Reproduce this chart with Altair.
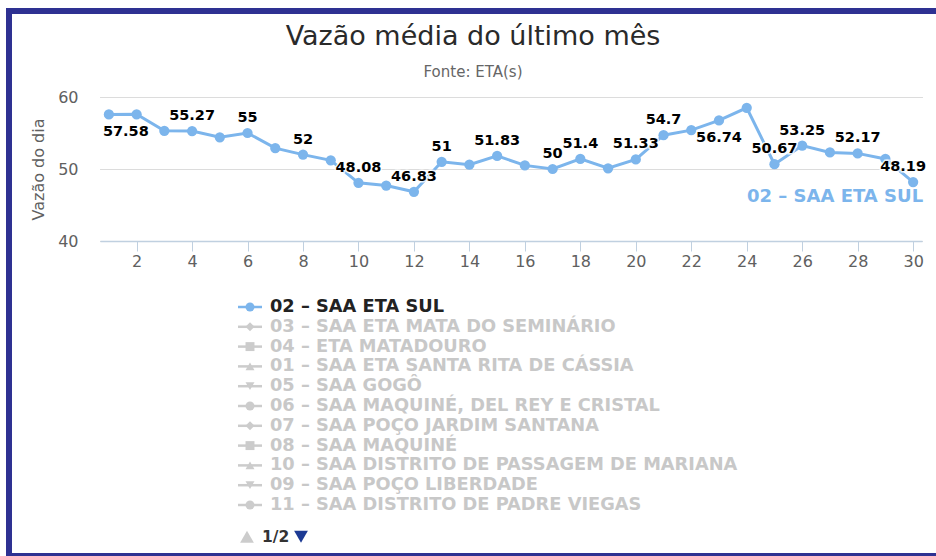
import altair as alt
import pandas as pd

# ---------------- data ----------------
days = list(range(1, 31))
vazao = [57.58, 57.6, 55.3, 55.27, 54.4, 55.0, 52.9, 52.0, 51.2, 48.08,
         47.7, 46.83, 51.0, 50.6, 51.83, 50.5, 50.0, 51.4, 50.1, 51.33,
         54.7, 55.4, 56.74, 58.5, 50.67, 53.25, 52.3, 52.17, 51.4, 48.19]
label_days = [1, 4, 6, 8, 10, 12, 13, 15, 17, 18, 20, 21, 23, 25, 26, 28, 30]
label_below_days = [1, 23]
series_name = "02 – SAA ETA SUL"
title_text = "Vazão média do último mês"
subtitle_text = "Fonte: ETA(s)"

legend_names = [
    "02 – SAA ETA SUL",
    "03 – SAA ETA MATA DO SEMINÁRIO",
    "04 – ETA MATADOURO",
    "01 – SAA ETA SANTA RITA DE CÁSSIA",
    "05 – SAA GOGÔ",
    "06 – SAA MAQUINÉ, DEL REY E CRISTAL",
    "07 – SAA POÇO JARDIM SANTANA",
    "08 – SAA MAQUINÉ",
    "10 – SAA DISTRITO DE PASSAGEM DE MARIANA",
    "09 – SAA POÇO LIBERDADE",
    "11 – SAA DISTRITO DE PADRE VIEGAS",
]
legend_shapes = ["circle", "diamond", "square", "triangle-up", "triangle-down",
                 "circle", "diamond", "square", "triangle-up", "triangle-down", "circle"]
legend_visible = [True] + [False] * 10
page_text = "1/2"

x_ticks = list(range(2, 31, 2))
y_ticks = [40, 50, 60]

BLUE = "#7cb5ec"
HIDDEN = "#cccccc"
FRAME = "#2e3192"
FONT = "DejaVu Sans"

# ---------------- tables ----------------
df = pd.DataFrame({"day": days, "value": vazao})
df["label"] = [f"{v:g}" if d in label_days else "" for d, v in zip(days, vazao)]
df["pos"] = ["below" if d in label_below_days else ("above" if d in label_days else "none")
             for d in days]

leg = pd.DataFrame({
    "idx": list(range(len(legend_names))),
    "name": legend_names,
    "shape": legend_shapes,
    "visible": legend_visible,
})
leg["color"] = [BLUE if v else HIDDEN for v in legend_visible]
leg["tcolor"] = ["#222222" if v else "#c8c8c8" for v in legend_visible]

page = pd.DataFrame({"idx": [11.6], "text": [page_text]})
titles = pd.DataFrame({"text": [title_text, subtitle_text]})

# ---------------- main chart ----------------
xenc = alt.X("day:Q",
             scale=alt.Scale(domain=[0.68, 30.32], nice=False, zero=False),
             axis=alt.Axis(values=x_ticks, title=None, grid=False, format="d",
                           ticks=True, tickSize=10, tickColor="#c0d0e0",
                           domainColor="#c0d0e0", domainWidth=1.5,
                           labelFontSize=16, labelColor="#606060", labelFont=FONT,
                           labelPadding=2))
yenc = alt.Y("value:Q",
             scale=alt.Scale(domain=[40, 60], nice=False, zero=False),
             axis=alt.Axis(values=y_ticks, title="Vazão do dia", grid=True,
                           gridColor="#dcdcdc", domain=False, ticks=False,
                           labelFontSize=16, labelColor="#606060", labelFont=FONT,
                           labelPadding=22, titleFont=FONT, titleFontSize=16,
                           titleFontWeight="normal", titleColor="#606060",
                           titlePadding=11))

base = alt.Chart(df).encode(x=xenc, y=yenc)

line = base.mark_line(color=BLUE, strokeWidth=3)
pts = base.mark_circle(color=BLUE, size=105, opacity=1)

dx_expr = alt.ExprRef("datum.day == 1 ? 17 : (datum.day == 30 ? -10 : 0)")
lab_style = dict(font=FONT, fontSize=14.5, fontWeight="bold", dx=dx_expr)

above = base.transform_filter("datum.pos == 'above'")
below = base.transform_filter("datum.pos == 'below'")

lab_above_halo = above.mark_text(dy=-15, color="white", stroke="white",
                                 strokeWidth=3, strokeOpacity=0.8, **lab_style).encode(text="label:N")
lab_above = above.mark_text(dy=-15, color="#000000", **lab_style).encode(text="label:N")
lab_below_halo = below.mark_text(dy=18, color="white", stroke="white",
                                 strokeWidth=3, strokeOpacity=0.8, **lab_style).encode(text="label:N")
lab_below = below.mark_text(dy=18, color="#000000", **lab_style).encode(text="label:N")

series_lab = base.transform_filter("datum.day == 30").mark_text(
    align="right", dx=10, dy=15, color=BLUE, font=FONT, fontSize=18,
    fontWeight="bold").encode(text=alt.value(series_name))

# ---------------- title (as text above the plot) ----------------
tbase = alt.Chart(titles)
title_mark = tbase.transform_filter(alt.datum.text == title_text).mark_text(
    align="center", baseline="middle", font=FONT, fontSize=27, color="#2a2a2a").encode(
    x=alt.value(373), y=alt.value(-60), text="text:N")
subtitle_mark = tbase.transform_filter(alt.datum.text == subtitle_text).mark_text(
    align="center", baseline="middle", font=FONT, fontSize=15, color="#666666").encode(
    x=alt.value(373), y=alt.value(-25), text="text:N")

# ---------------- legend (drawn below the plot) ----------------
ly = alt.Y("idx:Q", scale=alt.Scale(domain=[0, 10], range=[210, 408]), axis=None)
legbase = alt.Chart(leg).encode(y=ly)
leg_line = legbase.mark_rule(strokeWidth=2.5).encode(
    x=alt.value(138), x2=alt.value(162), color=alt.Color("color:N", scale=None))
leg_sym = legbase.mark_point(filled=True, size=80, opacity=1).encode(
    x=alt.value(150), shape=alt.Shape("shape:N", scale=None),
    color=alt.Color("color:N", scale=None))
leg_txt = legbase.mark_text(align="left", baseline="middle", font=FONT,
                            fontSize=17.8, fontWeight="bold").encode(
    x=alt.value(170), text="name:N", color=alt.Color("tcolor:N", scale=None))

pbase = alt.Chart(page).encode(y=ly)
p_up = pbase.mark_point(shape="triangle-up", filled=True, size=190, color="#cccccc",
                        opacity=1).encode(x=alt.value(147))
p_txt = pbase.mark_text(align="left", baseline="middle", font=FONT, fontSize=15.5,
                        fontWeight="bold", color="#333333").encode(x=alt.value(162), text="text:N")
p_dn = pbase.mark_point(shape="triangle-down", filled=True, size=190, color="#1c3a94",
                        opacity=1).encode(x=alt.value(201))

# ---------------- frame (top, left and bottom bands) ----------------
fdf = pd.DataFrame({"a": [0]})
frame_top = alt.Chart(fdf).mark_rule(color=FRAME, strokeWidth=6).encode(
    x=alt.value(-94), x2=alt.value(836), y=alt.value(-86))
frame_left = alt.Chart(fdf).mark_rule(color=FRAME, strokeWidth=6).encode(
    x=alt.value(-91), y=alt.value(-89), y2=alt.value(459))
frame_bottom = alt.Chart(fdf).mark_rule(color=FRAME, strokeWidth=3).encode(
    x=alt.value(-94), x2=alt.value(836), y=alt.value(457.5))

chart = alt.layer(
    line, pts, lab_above_halo, lab_above, lab_below_halo, lab_below, series_lab,
    title_mark, subtitle_mark,
    leg_line, leg_sym, leg_txt, p_up, p_txt, p_dn,
    frame_top, frame_left, frame_bottom
).resolve_scale(y="independent").properties(
    width=822, height=144,
    padding={"left": 100, "top": 97, "right": 14, "bottom": 315},
    autosize=alt.AutoSizeParams(type="none"),
).configure(background="white").configure_view(stroke=None)

chart.save("out.html", embed_options={"renderer": "svg", "actions": False})
